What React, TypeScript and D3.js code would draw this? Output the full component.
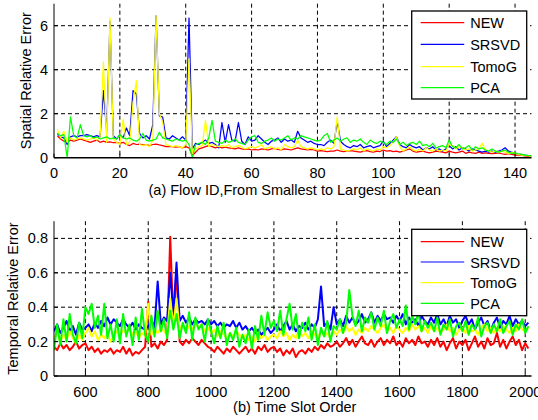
import React from 'react'
import * as d3 from 'd3'

// (a) spatial relative error per flow (flow 1..145)
const newA = [1.0, 0.85, 0.75, 0.7, 0.8, 0.75, 0.8, 0.85, 0.8, 0.75,
  0.7, 0.75, 0.8, 0.7, 0.75, 0.7, 0.72, 0.68, 0.7, 0.65,
  0.7, 0.6, 0.55, 0.65, 0.6, 0.62, 0.58, 0.6, 0.55, 0.6,
  0.62, 0.58, 0.55, 0.5, 0.52, 0.5, 0.48, 0.5, 0.45, 0.5,
  0.45, 0.1, 0.25, 0.4, 0.45, 0.5, 0.55, 0.5, 0.45, 0.5,
  0.45, 0.48, 0.45, 0.42, 0.4, 0.45, 0.4, 0.38, 0.4, 0.35,
  0.38, 0.35, 0.4, 0.38, 0.35, 0.4, 0.42, 0.38, 0.35, 0.4,
  0.38, 0.35, 0.4, 0.45, 0.4, 0.38, 0.35, 0.38, 0.35, 0.3,
  0.32, 0.3, 0.28, 0.3, 0.3, 0.35, 0.3, 0.28, 0.3, 0.32,
  0.3, 0.28, 0.25, 0.3, 0.32, 0.28, 0.25, 0.3, 0.28, 0.35,
  0.3, 0.32, 0.28, 0.3, 0.25, 0.3, 0.35, 0.4, 0.3, 0.25,
  0.28, 0.3, 0.25, 0.22, 0.25, 0.3, 0.28, 0.25, 0.22, 0.3,
  0.25, 0.22, 0.25, 0.3, 0.2, 0.25, 0.22, 0.2, 0.25, 0.2,
  0.22, 0.2, 0.18, 0.2, 0.22, 0.18, 0.15, 0.18, 0.15, 0.12,
  0.12, 0.1, 0.08, 0.06, 0.05]
const srsvdA = [1.1, 0.95, 0.9, 0.6, 0.95, 1.0, 0.95, 1.0, 1.0, 1.05,
  1.0, 0.95, 1.0, 0.95, 3.05, 1.2, 6.2, 1.0, 0.85, 1.05,
  0.9, 1.35, 1.0, 3.05, 2.9, 1.1, 0.9, 1.0, 0.85, 1.5,
  6.45, 1.9, 1.85, 0.9, 0.85, 1.0, 0.9, 0.8, 0.95, 0.8,
  6.35, 0.4, 0.65, 0.6, 0.7, 0.8, 0.65, 0.7, 0.6, 0.45,
  1.6, 0.7, 1.5, 0.8, 0.75, 1.6, 0.75, 0.6, 0.95, 0.75,
  0.8, 1.0, 0.85, 0.7, 0.6, 0.75, 0.8, 0.9, 0.7, 0.85,
  0.75, 0.8, 0.7, 1.2, 0.9, 0.8, 0.7, 0.75, 0.65, 0.6,
  0.6, 0.55, 0.7, 0.8, 0.65, 1.65, 0.75, 0.6, 0.5, 0.45,
  0.55, 0.5, 0.6, 0.45, 0.5, 0.55, 0.45, 0.5, 0.55, 0.75,
  0.5, 0.65, 0.8, 0.95, 0.6, 0.5, 0.45, 0.6, 0.5, 0.45,
  0.5, 0.35, 0.45, 0.4, 0.5, 0.35, 0.4, 0.3, 0.4, 0.55,
  0.4, 0.5, 0.35, 0.45, 0.4, 0.3, 0.4, 0.35, 0.3, 0.25,
  0.3, 0.25, 0.3, 0.25, 0.3, 0.35, 0.45, 0.3, 0.25, 0.2,
  0.15, 0.15, 0.12, 0.1, 0.08]
const tomogA = [1.3, 0.9, 1.2, 0.7, 0.9, 0.8, 0.85, 0.9, 0.85, 0.8,
  0.85, 0.9, 0.8, 0.95, 4.35, 0.7, 6.35, 0.85, 0.7, 0.6,
  1.75, 0.6, 0.7, 2.5, 3.5, 0.6, 0.55, 0.6, 0.5, 0.8,
  6.45, 2.0, 1.6, 0.6, 0.55, 0.5, 0.55, 0.5, 0.45, 0.6,
  4.5, 0.2, 0.4, 0.5, 0.55, 1.7, 0.5, 0.6, 0.55, 0.5,
  0.55, 0.5, 0.6, 0.45, 0.5, 0.55, 0.5, 0.4, 0.45, 0.5,
  0.45, 0.5, 0.6, 0.4, 0.45, 0.5, 0.4, 0.45, 0.35, 0.6,
  0.5, 0.45, 0.5, 0.8, 0.5, 0.45, 0.4, 0.45, 0.4, 0.35,
  0.4, 0.35, 0.45, 0.4, 0.5, 1.86, 0.4, 0.35, 0.3, 0.35,
  0.4, 0.35, 0.45, 0.3, 0.4, 0.35, 0.3, 0.4, 0.35, 0.5,
  0.45, 0.55, 0.7, 0.95, 0.5, 0.3, 0.4, 0.5, 0.35, 0.3,
  0.4, 0.3, 0.45, 0.35, 0.3, 0.4, 0.3, 0.35, 0.3, 0.6,
  0.55, 0.4, 0.5, 0.45, 0.35, 0.4, 0.3, 0.35, 0.4, 0.65,
  0.35, 0.3, 0.25, 0.3, 0.25, 0.3, 0.25, 0.2, 0.25, 0.2,
  0.15, 0.12, 0.1, 0.08, 0.06]
const pcaA = [1.1, 1.0, 1.05, 0.0, 1.86, 1.0, 0.9, 1.5, 1.0, 0.95,
  1.0, 0.9, 0.95, 0.85, 0.9, 0.95, 0.85, 0.9, 0.85, 1.05,
  0.9, 0.85, 0.9, 0.8, 0.75, 0.85, 1.1, 0.8, 0.75, 0.8,
  0.85, 1.15, 0.9, 0.85, 0.8, 0.75, 0.85, 0.8, 0.75, 0.8,
  0.6, 0.0, 0.6, 0.65, 0.7, 0.6, 0.9, 1.7, 0.75, 0.7,
  0.65, 0.8, 0.7, 0.75, 0.85, 0.7, 0.65, 0.6, 0.8, 0.95,
  1.0, 0.7, 0.65, 0.75, 0.8, 0.9, 0.75, 0.85, 0.8, 0.9,
  1.0, 0.8, 0.9, 0.85, 1.0, 0.95, 0.9, 0.85, 0.8, 0.75,
  0.8, 1.0, 1.1, 0.7, 0.8, 0.9, 0.75, 0.85, 0.9, 0.7,
  0.8, 0.75, 0.85, 0.7, 0.6, 0.8, 0.7, 0.65, 0.75, 0.7,
  0.6, 0.75, 0.7, 0.85, 0.6, 0.7, 0.55, 0.65, 0.7, 0.6,
  0.75, 0.55, 0.6, 0.5, 0.65, 0.45, 0.5, 0.55, 0.45, 0.8,
  0.5, 0.45, 0.6, 0.4, 0.45, 0.55, 0.35, 0.5, 0.4, 0.45,
  0.35, 0.3, 0.4, 0.3, 0.25, 0.3, 0.35, 0.25, 0.2, 0.22,
  0.18, 0.15, 0.12, 0.1, 0.08]

// (b) temporal relative error, one value every 10 slots from slot 500
const slotStart = 500
const slotStep = 10
const newB = [.17, .15, .19, .16, .18, .15, .17, .20, .16, .18,
  .19, .15, .17, .14, .16, .13, .15, .14, .16, .13,
  .15, .14, .17, .13, .16, .12, .14, .13, .15, .17,
  .43, .17, .19, .16, .20, .18, .21, .81, .30, .62,
  .20, .18, .21, .19, .22, .20, .18, .21, .19, .17,
  .16, .14, .17, .15, .13, .16, .14, .17, .15, .13,
  .15, .17, .14, .16, .13, .17, .15, .18, .14, .16,
  .17, .14, .16, .12, .15, .13, .16, .11, .14, .15,
  .13, .16, .14, .17, .15, .18, .16, .19, .17, .18,
  .20, .17, .19, .22, .18, .21, .17, .20, .23, .19,
  .18, .21, .17, .20, .22, .18, .21, .19, .23, .18,
  .20, .17, .22, .19, .21, .18, .23, .19, .20, .17,
  .21, .18, .22, .17, .20, .15, .19, .22, .16, .20,
  .18, .21, .15, .19, .23, .17, .20, .16, .22, .18,
  .19, .25, .17, .21, .16, .20, .23, .18, .21, .15,
  .19, .16]
const srsvdB = [.26, .30, .25, .28, .32, .26, .29, .24, .31, .27,
  .28, .30, .26, .31, .28, .32, .29, .34, .30, .33,
  .31, .29, .33, .30, .28, .31, .27, .30, .28, .27,
  .29, .33, .28, .55, .30, .34, .32, .60, .36, .66,
  .32, .35, .31, .34, .30, .33, .31, .32, .30, .33,
  .30, .32, .29, .31, .28, .30, .29, .32, .28, .31,
  .27, .29, .26, .28, .25, .27, .24, .26, .28, .25,
  .27, .30, .26, .29, .32, .27, .30, .26, .29, .28,
  .31, .27, .30, .28, .33, .52, .29, .31, .27, .40,
  .30, .33, .29, .35, .31, .34, .30, .32, .36, .31,
  .33, .37, .31, .35, .32, .36, .33, .34, .31, .35,
  .32, .36, .30, .34, .31, .33, .29, .35, .32, .30,
  .34, .31, .36, .30, .33, .29, .35, .31, .33, .28,
  .32, .35, .30, .33, .27, .31, .34, .29, .32, .26,
  .31, .34, .28, .32, .30, .35, .29, .33, .30, .32,
  .29, .31]
const tomogB = [.22, .25, .20, .24, .21, .26, .22, .19, .24, .21,
  .25, .28, .23, .26, .21, .24, .22, .25, .20, .23,
  .26, .23, .27, .25, .28, .24, .26, .22, .25, .23,
  .42, .24, .27, .25, .28, .26, .24, .45, .29, .45,
  .27, .30, .26, .29, .27, .31, .28, .30, .26, .28,
  .25, .27, .23, .26, .24, .22, .25, .23, .26, .24,
  .22, .24, .21, .23, .20, .25, .22, .24, .21, .23,
  .24, .22, .26, .23, .25, .21, .24, .22, .27, .23,
  .25, .22, .26, .24, .21, .27, .23, .25, .22, .26,
  .24, .27, .25, .29, .26, .28, .24, .27, .25, .28,
  .26, .29, .27, .25, .28, .30, .26, .28, .25, .29,
  .27, .25, .28, .26, .30, .27, .29, .26, .28, .25,
  .29, .26, .28, .25, .27, .30, .26, .28, .24, .27,
  .28, .25, .29, .26, .27, .24, .28, .30, .26, .28,
  .25, .28, .26, .29, .27, .25, .28, .26, .30, .27,
  .26, .28]
const pcaB = [.15, .30, .18, .33, .20, .36, .24, .19, .31, .22,
  .40, .36, .42, .28, .35, .24, .42, .22, .30, .20,
  .33, .19, .36, .23, .30, .18, .34, .21, .39, .24,
  .20, .35, .23, .38, .26, .33, .22, .38, .27, .36,
  .22, .31, .25, .37, .21, .34, .27, .30, .20, .33,
  .26, .19, .29, .22, .31, .18, .25, .21, .28, .17,
  .24, .19, .27, .16, .29, .21, .35, .24, .37, .28,
  .32, .26, .38, .24, .33, .42, .27, .36, .22, .31,
  .26, .34, .21, .30, .18, .28, .23, .32, .20, .29,
  .27, .33, .25, .31, .50, .35, .29, .38, .26, .34,
  .31, .37, .27, .34, .29, .38, .25, .32, .36, .28,
  .33, .29, .41, .27, .35, .30, .37, .26, .32, .28,
  .31, .26, .34, .24, .30, .27, .33, .23, .29, .31,
  .26, .32, .24, .30, .27, .34, .23, .29, .31, .25,
  .30, .26, .33, .25, .29, .32, .24, .30, .27, .33,
  .25, .29]

const names = ['NEW', 'SRSVD', 'TomoG', 'PCA']
const colors = ['#ff0000', '#0000ff', '#ffff00', '#00ff00']
const ticksA_x = [0, 20, 40, 60, 80, 100, 120, 140]
const ticksA_y = [0, 2, 4, 6]
const ticksB_x = [600, 800, 1000, 1200, 1400, 1600, 1800, 2000]
const ticksB_y = [0, 0.2, 0.4, 0.6, 0.8]

const font = 'Liberation Sans, Arial, sans-serif'

type PanelProps = {
  series: number[][]
  xs: (i: number) => number
  xDomain: [number, number]
  yDomain: [number, number]
  top: number
  bottom: number
  xTicks: number[]
  yTicks: number[]
  yFmt: (v: number) => string
  ylabel: string
  ylabelX: number
  xlabel: string
  xlabelY: number
  lineW: number
  legend: { x: number; y: number; h: number; rows: number[] }
}

const Panel = (p: PanelProps) => {
  const left = 54
  const right = 531.5
  const x = d3.scaleLinear().domain(p.xDomain).range([left, right])
  const y = d3.scaleLinear().domain(p.yDomain).range([p.bottom, p.top])
  const line = d3.line<number>().x((d, i) => x(p.xs(i))).y(d => y(d))
  const clipId = 'clip' + Math.round(p.top)

  return (
    <g fontFamily={font} fontSize={14.5}>
      <defs>
        <clipPath id={clipId}>
          <rect x={left} y={p.top} width={right - left} height={p.bottom - p.top} />
        </clipPath>
      </defs>
      {/* grid */}
      {p.xTicks.filter(t => t > p.xDomain[0]).map(t => (
        <line key={'gx' + t} x1={x(t)} x2={x(t)} y1={p.top} y2={p.bottom}
          stroke="#000" strokeDasharray="4,3" strokeWidth={1} />
      ))}
      {p.yTicks.filter(t => t > 0).map(t => (
        <line key={'gy' + t} x1={left} x2={right} y1={y(t)} y2={y(t)}
          stroke="#000" strokeDasharray="4,3" strokeWidth={1} />
      ))}
      {/* series */}
      <g clipPath={`url(#${clipId})`}>
        {p.series.map((s, k) => (
          <path key={k} d={line(s) || ''} fill="none" stroke={colors[k]}
            strokeWidth={p.lineW} strokeLinejoin="round" />
        ))}
      </g>
      {/* axes */}
      <line x1={left} x2={left} y1={p.top} y2={p.bottom} stroke="#000" strokeWidth={1} />
      <line x1={left} x2={right} y1={p.bottom} y2={p.bottom} stroke="#000" strokeWidth={1.5} />
      {p.xTicks.map(t => (
        <g key={'tx' + t}>
          <line x1={x(t)} x2={x(t)} y1={p.bottom} y2={p.bottom - 4} stroke="#000" />
          <text x={x(t)} y={p.bottom + 20.5} textAnchor="middle">{t}</text>
        </g>
      ))}
      {p.yTicks.map(t => (
        <g key={'ty' + t}>
          <line x1={left} x2={left + 4} y1={y(t)} y2={y(t)} stroke="#000" />
          <text x={left - 6} y={y(t) + 5} textAnchor="end">{p.yFmt(t)}</text>
        </g>
      ))}
      <text transform={`translate(${p.ylabelX},${(p.top + p.bottom) / 2}) rotate(-90)`}
        textAnchor="middle">{p.ylabel}</text>
      <text x={(left + right) / 2 + 2} y={p.xlabelY} textAnchor="middle">{p.xlabel}</text>
      {/* legend */}
      <rect x={p.legend.x} y={p.legend.y} width={115} height={p.legend.h}
        fill="#fff" stroke="#000" strokeWidth={1.3} />
      {names.map((n, k) => (
        <g key={n}>
          <line x1={p.legend.x + 9} x2={p.legend.x + 52.5} y1={p.legend.rows[k]} y2={p.legend.rows[k]}
            stroke={colors[k]} strokeWidth={1.2} />
          <text x={p.legend.x + 58.5} y={p.legend.rows[k] + 5.5}>{n}</text>
        </g>
      ))}
    </g>
  )
}

const App = () => {
  return (
    <svg width={538} height={420} style={{ position: 'absolute', left: 0, top: 0, background: '#fff' }}>
      <Panel
        series={[newA, srsvdA, tomogA, pcaA]}
        xs={i => i + 1}
        xDomain={[0, 145]}
        yDomain={[0, 7]}
        top={3.7}
        bottom={157.7}
        xTicks={ticksA_x}
        yTicks={ticksA_y}
        yFmt={v => String(v)}
        ylabel="Spatial Relative Error"
        ylabelX={31}
        xlabel="(a) Flow ID,From Smallest to Largest in Mean"
        xlabelY={195}
        lineW={1.25}
        legend={{ x: 411.7, y: 11, h: 88, rows: [22.7, 44.3, 66.7, 87.7] }}
      />
      <Panel
        series={[newB, srsvdB, tomogB, pcaB]}
        xs={i => slotStart + i * slotStep}
        xDomain={[500, 2020]}
        yDomain={[0, 0.9]}
        top={221.2}
        bottom={376}
        xTicks={ticksB_x}
        yTicks={ticksB_y}
        yFmt={v => (v === 0 ? '0' : d3.format('.1f')(v))}
        ylabel="Temporal Relative Error"
        ylabelX={18}
        xlabel="(b) Time Slot Order"
        xlabelY={412}
        lineW={2}
        legend={{ x: 411.7, y: 229.3, h: 86.4, rows: [241.7, 262, 282.6, 303.3] }}
      />
    </svg>
  )
}

export default App
